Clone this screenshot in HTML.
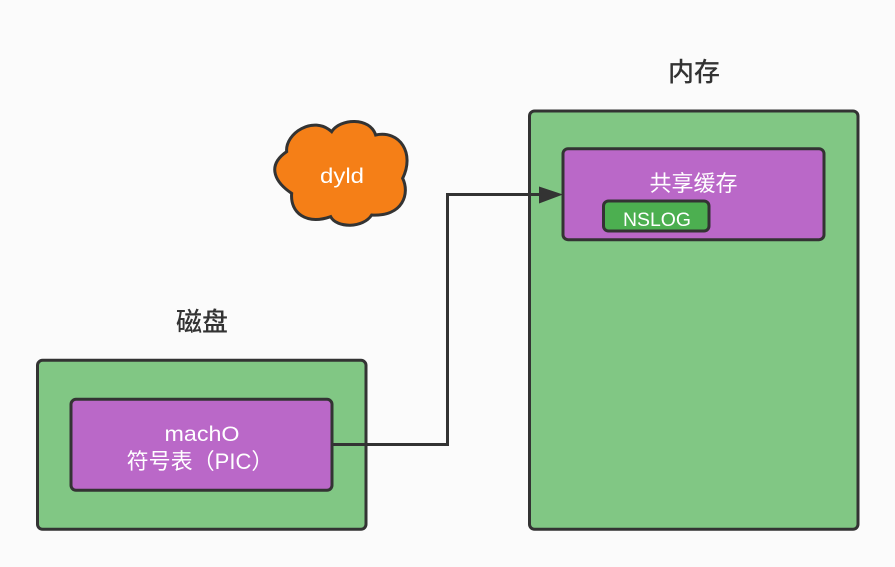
<!DOCTYPE html>
<html>
<head>
<meta charset="utf-8">
<style>
html,body{margin:0;padding:0;background:#fbfbfb;}
svg{display:block;}
text{font-family:"Liberation Sans","Noto Sans CJK SC",sans-serif;}
</style>
</head>
<body>
<svg width="895" height="567" viewBox="0 0 895 567" xmlns="http://www.w3.org/2000/svg">
<rect width="895" height="567" fill="#fbfbfb"/>
<g stroke="#333" stroke-width="3">
<rect x="37.5" y="360.3" width="328.5" height="169" rx="5" fill="#81c784"/>
<rect x="71" y="399.3" width="261" height="91" rx="5" fill="#ba68c8"/>
<rect x="529.5" y="111" width="328.5" height="418.3" rx="5" fill="#81c784"/>
<rect x="563" y="148.7" width="261" height="91" rx="5" fill="#ba68c8"/>
<rect x="603.5" y="201" width="105.5" height="30" rx="5" fill="#4caf50"/>
</g>
<path d="M332,444.5H447.5V194.5H545" fill="none" stroke="#333" stroke-width="3"/>
<polygon points="563,194.5 539,186.5 539,203.5" fill="#333"/>
<g transform="translate(260,110) scale(0.3333)">
<path d="M80,125 C75,70 160,15 215,65 C240,25 330,20 347,75 C420,60 465,130 428,205 C450,250 430,320 335,315 C310,355 230,355 212,320 C140,345 90,310 95,250 C50,220 15,170 80,125 Z" fill="#f57f17" stroke="#333" stroke-width="9"/>
</g>
<g text-anchor="middle">
<text x="694" y="81" font-size="26" fill="#333" font-weight="500">内存</text>
<text x="202" y="331" font-size="26" fill="#333" font-weight="500">磁盘</text>
<g fill="#fff">
<text x="342" y="183" font-size="21" textLength="44" lengthAdjust="spacingAndGlyphs">dyld</text>
<text x="693.5" y="191" font-size="22">共享缓存</text>
<text x="657" y="226" font-size="19" textLength="68" lengthAdjust="spacingAndGlyphs">NSLOG</text>
<text x="202" y="441" font-size="21" textLength="75" lengthAdjust="spacingAndGlyphs">machO</text>
<text x="200" y="469" font-size="22">符号表（PIC）</text>
</g>
</g>
</svg>
</body>
</html>
